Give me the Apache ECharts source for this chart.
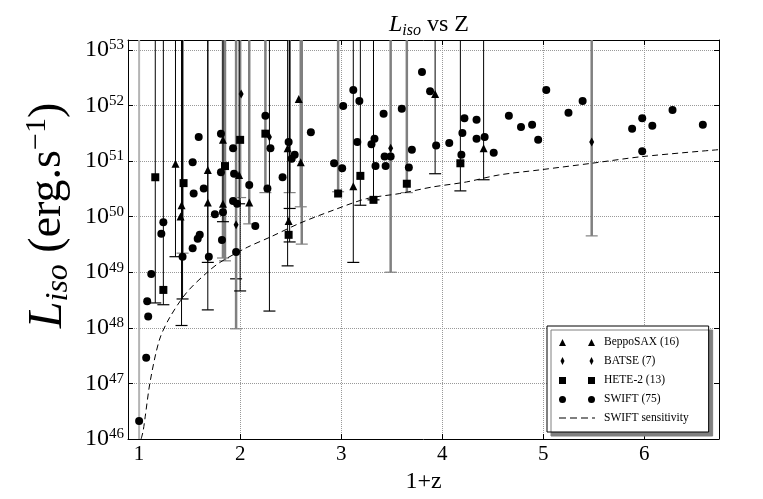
<!DOCTYPE html>
<html>
<head>
<meta charset="utf-8">
<script src="https://cdn.jsdelivr.net/npm/echarts@6/dist/echarts.min.js"></script>
<style>
html, body { margin: 0; padding: 0; background: #fff; }
#container { width: 763px; height: 499px; }
</style>
</head>
<body>
<div id="container"></div>
<script>
var dom = document.getElementById("container");
var myChart = echarts.init(dom);
var serif = 'Liberation Serif';

var yMin = 1e46;
var yMax = 1.5e53;

// [1+z, L_iso]
var beppoSAX = [
  [1.36, 8.9e50], [1.42, 1.6e50], [1.41, 1.0e50], [1.68, 6.9e50], [1.68, 1.8e50],
  [1.83, 2.4e51], [1.83, 1.7e50], [1.99, 5.6e50], [2.09, 1.8e50], [2.47, 1.7e51],
  [2.48, 8.3e49], [2.58, 1.3e52], [2.60, 9.5e50], [3.12, 3.5e50], [3.93, 1.6e52],
  [4.41, 1.7e51]
];
var batse = [
  [1.96, 7.1e49], [2.01, 1.6e52], [2.29, 2.7e51], [3.49, 1.7e51], [5.48, 2.2e51]
];
var hete2 = [
  [1.16, 5.1e50], [1.24, 4.8e48], [1.44, 4.0e50], [1.85, 8.1e50], [2.00, 2.4e51],
  [2.25, 3.1e51], [2.48, 4.7e49], [2.97, 2.6e50], [3.19, 5.4e50], [3.32, 2.0e50],
  [3.65, 3.9e50], [4.18, 9.1e50]
];
var swift = [
  [1.24, 7.9e49], [1.22, 4.9e49], [1.59, 2.7e51], [1.53, 9.5e50], [1.54, 2.6e50],
  [1.64, 3.2e50], [1.75, 1.1e50], [1.81, 3.1e51], [1.81, 6.3e50], [1.83, 1.2e50],
  [1.93, 1.9e50], [1.93, 1.7e51], [1.94, 5.9e50], [1.97, 1.7e50], [1.58, 4.0e49],
  [1.60, 4.7e49], [1.53, 2.7e49], [1.82, 3.8e49], [2.09, 3.7e50], [2.15, 6.8e49],
  [2.25, 6.5e51], [2.30, 1.7e51], [2.27, 3.2e50], [2.42, 5.1e50], [2.48, 2.2e51],
  [2.51, 1.1e51], [2.54, 1.3e51], [2.70, 3.3e51], [1.12, 9.3e48], [1.08, 3.0e48],
  [1.09, 1.6e48], [1.07, 2.9e47], [1.00, 2.1e46], [1.43, 1.9e49], [1.69, 1.9e49],
  [1.96, 2.3e49], [3.02, 9.8e51], [3.18, 1.2e52], [3.42, 7.1e51], [3.16, 2.2e51],
  [3.30, 2.0e51], [3.33, 2.5e51], [2.93, 9.1e50], [3.01, 7.4e50], [3.34, 8.1e50],
  [3.44, 8.1e50], [3.43, 1.2e51], [3.49, 1.2e51], [3.12, 1.9e52], [3.60, 8.7e51],
  [3.67, 7.6e50], [3.70, 1.6e51], [3.80, 4.0e52], [3.88, 1.8e52], [3.94, 1.9e51],
  [4.07, 2.1e51], [4.20, 3.2e51], [4.19, 1.3e51], [4.22, 5.9e51], [4.34, 5.5e51],
  [4.34, 2.5e51], [4.42, 2.7e51], [4.51, 1.4e51], [4.66, 6.5e51], [4.78, 4.1e51],
  [4.89, 4.5e51], [4.95, 2.4e51], [5.03, 1.9e52], [5.25, 7.4e51], [5.39, 1.2e52],
  [5.88, 3.8e51], [5.98, 5.9e51], [5.98, 1.5e51], [6.08, 4.3e51], [6.28, 8.3e51],
  [6.58, 4.5e51]
];

// error bars: [1+z, lower value, style 0 = black, 1 = grey thick, 2 = light grey]
// upper ends are all off the top of the plot
var errorBars = [
  [1.00, 1e45, 2],
  [1.16, 2.8e48, 0], [1.24, 2.6e48, 0], [1.36, 1.9e49, 0],
  [1.43, 2.2e49, 1], [1.43, 3.3e48, 0], [1.42, 1.1e48, 0],
  [1.68, 1.5e49, 0], [1.68, 2.1e48, 0],
  [1.83, 1.8e49, 1], [1.85, 1.6e49, 1], [1.83, 8.1e49, 0],
  [1.96, 7.6e48, 0], [1.96, 9.6e47, 1],
  [2.00, 4.6e48, 0], [2.00, 2.2e50, 1], [1.99, 1.7e50, 0],
  [2.09, 7.4e49, 1], [2.25, 2.7e50, 1], [2.29, 2.0e48, 0],
  [2.49, 2.7e50, 1], [2.49, 1.4e50, 0], [2.49, 3.5e49, 0], [2.47, 1.3e49, 0],
  [2.60, 1.5e50, 1], [2.61, 3.2e49, 1],
  [2.97, 2.8e50, 1], [3.12, 1.5e49, 0], [3.19, 1.6e50, 0], [3.32, 2.0e50, 0],
  [3.49, 1.0e49, 1], [3.65, 2.7e50, 1], [3.93, 5.9e50, 0], [4.18, 2.9e50, 0],
  [4.41, 4.6e50, 0], [5.48, 4.5e49, 1]
];

// SWIFT sensitivity curve
var sensX = [1.02, 1.04, 1.06, 1.11, 1.20, 1.30, 1.47, 1.67, 1.80, 2.07, 2.30, 2.59, 2.92, 3.25, 3.58, 3.90, 4.24, 4.56, 4.96, 5.48, 5.98, 6.74];
var sensY = [1.0e46, 1.4e46, 2.5e46, 1.1e47, 6.0e47, 1.5e48, 4.3e48, 9.8e48, 1.5e49, 2.8e49, 4.3e49, 7.6e49, 1.3e50, 2.1e50, 2.6e50, 3.4e50, 4.2e50, 5.6e50, 6.9e50, 9.1e50, 1.2e51, 1.6e51];

var errStyles = [
  { color: '#000', width: 1 },
  { color: '#808080', width: 2.5 },
  { color: '#b4b4b4', width: 2 }
];

var icons = {
  tri: 'path://M0,8L3.5,1L7,8Z M29,8L32.5,1L36,8Z M0,0L0,0Z',
  dia: 'path://M3.5,0L5.5,4L3.5,8L1.5,4Z M32.5,0L34.5,4L32.5,8L30.5,4Z M0,4L0,4Z M36,4L36,4Z',
  sq: 'path://M0,1h7v7h-7z M29,1h7v7h-7z M0,0L0,0Z',
  cir: 'path://M7,4.5A3.5,3.5,0,1,1,0,4.5A3.5,3.5,0,1,1,7,4.5Z M36,4.5A3.5,3.5,0,1,1,29,4.5A3.5,3.5,0,1,1,36,4.5Z M0,0L0,0Z',
  dash: 'path://M0,0L0,0Z M0,3.6h7v1h-7z M11,3.6h7v1h-7z M22,3.6h7v1h-7z M33,3.6h3v1h-3z M36,8L36,8Z'
};

function isPow10(v) {
  var e = Math.log10(v);
  return Math.abs(e - Math.round(e)) < 1e-6;
}

option = {
  backgroundColor: '#fff',
  animation: false,
  title: {
    text: '{it|L}{sub|iso}{n| vs Z}',
    left: 424,
    top: 6,
    textAlign: 'center',
    textStyle: {
      fontFamily: serif,
      fontWeight: 'normal',
      fontSize: 24,
      color: '#000',
      rich: {
        it: { fontFamily: serif, fontStyle: 'italic', fontSize: 24, lineHeight: 28 },
        sub: { fontFamily: serif, fontStyle: 'italic', fontSize: 16, verticalAlign: 'bottom', lineHeight: 19 },
        n: { fontFamily: serif, fontSize: 24, lineHeight: 28 }
      }
    }
  },
  legend: {
    orient: 'vertical',
    left: 547,
    top: 326,
    padding: [10, 20, 8, 12],
    backgroundColor: '#fff',
    borderColor: '#000',
    borderWidth: 1,
    borderRadius: 0,
    shadowColor: '#808080',
    shadowBlur: 0,
    shadowOffsetX: 4,
    shadowOffsetY: 4,
    itemWidth: 36,
    itemHeight: 8,
    itemGap: 7,
    textStyle: { fontFamily: serif, fontSize: 11.5, color: '#000', lineHeight: 12, padding: [0, 0, 0, 4] },
    data: [
      { name: 'BeppoSAX (16)', icon: icons.tri },
      { name: 'BATSE (7)', icon: icons.dia },
      { name: 'HETE-2 (13)', icon: icons.sq },
      { name: 'SWIFT (75)', icon: icons.cir },
      { name: 'SWIFT sensitivity', icon: icons.dash }
    ]
  },
  grid: { left: 128, right: 44, top: 40, bottom: 60 },
  xAxis: [{
    type: 'value',
    min: 0.89,
    max: 6.74,
    name: '1+z',
    nameLocation: 'middle',
    nameGap: 27,
    nameTextStyle: { fontFamily: serif, fontSize: 24, color: '#000' },
    axisLine: { lineStyle: { color: '#000', width: 1 } },
    axisTick: { inside: true, length: 5, lineStyle: { color: '#000' } },
    axisLabel: {
      fontFamily: serif, fontSize: 21, color: '#000', margin: 5,
      formatter: function (v) { return Number.isInteger(v) ? String(v) : ''; }
    },
    splitLine: { show: true, lineStyle: { type: 'dotted', color: '#999', width: 1 } }
  }, {
    type: 'value',
    position: 'top',
    min: 0.89,
    max: 6.74,
    axisLine: { show: true, lineStyle: { color: '#000', width: 1 } },
    axisTick: { show: true, inside: true, length: 5, lineStyle: { color: '#000' } },
    axisLabel: { show: false },
    splitLine: { show: false }
  }],
  yAxis: [{
    type: 'log',
    logBase: 10,
    min: yMin,
    max: yMax,
    name: '{L|L}{sub|iso}{t| (erg.s}{sup|−1}{t|)}',
    nameLocation: 'middle',
    nameRotate: 90,
    nameGap: 40,
    nameTextStyle: {
      fontFamily: serif, fontSize: 46, color: '#000', padding: [0, 0, 0, 48],
      rich: {
        L: { fontFamily: serif, fontStyle: 'italic', fontSize: 48, lineHeight: 52 },
        sub: { fontFamily: serif, fontStyle: 'italic', fontSize: 32, verticalAlign: 'bottom', lineHeight: 34 },
        t: { fontFamily: serif, fontSize: 46, lineHeight: 52 },
        sup: { fontFamily: serif, fontSize: 30, verticalAlign: 'top', lineHeight: 32 }
      }
    },
    axisLine: { show: true, lineStyle: { color: '#000', width: 1 } },
    axisTick: { show: true, inside: true, length: 5, lineStyle: { color: '#000' } },
    axisLabel: {
      fontFamily: serif, fontSize: 24, color: '#000', margin: 4,
      formatter: function (v) {
        if (!isPow10(v)) return '';
        return '10{sup|' + Math.round(Math.log10(v)) + '}';
      },
      rich: {
        sup: { fontFamily: serif, fontSize: 15, verticalAlign: 'top', lineHeight: 16 }
      }
    },
    splitLine: { show: true, lineStyle: { type: 'dotted', color: '#999', width: 1 } }
  }, {
    type: 'log',
    logBase: 10,
    position: 'right',
    min: yMin,
    max: yMax,
    axisLine: { show: true, lineStyle: { color: '#000', width: 1 } },
    axisTick: { show: true, inside: true, length: 5, lineStyle: { color: '#000' } },
    axisLabel: { show: false },
    splitLine: { show: false }
  }],
  series: [{
    type: 'custom',
    name: 'errors',
    silent: true,
    z: 1,
    data: errorBars,
    encode: { x: 0, y: 1 },
    renderItem: function (params, api) {
      var x = api.value(0);
      var lo = api.value(1);
      var st = errStyles[api.value(2)];
      var top = api.coord([x, yMax]);
      var bot = api.coord([x, Math.max(lo, yMin)]);
      var children = [{
        type: 'line',
        shape: { x1: top[0], y1: top[1], x2: bot[0], y2: bot[1] },
        style: { stroke: st.color, lineWidth: st.width }
      }];
      if (lo >= yMin) {
        children.push({
          type: 'line',
          shape: { x1: bot[0] - 6, y1: bot[1], x2: bot[0] + 6, y2: bot[1] },
          style: { stroke: st.color, lineWidth: 1.2 }
        });
      }
      return { type: 'group', children: children };
    }
  }, {
    type: 'scatter',
    name: 'BeppoSAX (16)',
    symbol: 'triangle',
    symbolSize: 8,
    itemStyle: { color: '#000', opacity: 1 },
    z: 3,
    data: beppoSAX
  }, {
    type: 'scatter',
    name: 'BATSE (7)',
    symbol: 'diamond',
    symbolSize: [5, 9],
    itemStyle: { color: '#000', opacity: 1 },
    z: 3,
    data: batse
  }, {
    type: 'scatter',
    name: 'HETE-2 (13)',
    symbol: 'rect',
    symbolSize: 8,
    itemStyle: { color: '#000', opacity: 1 },
    z: 3,
    data: hete2
  }, {
    type: 'scatter',
    name: 'SWIFT (75)',
    symbol: 'circle',
    symbolSize: 8,
    itemStyle: { color: '#000', opacity: 1 },
    z: 3,
    data: swift
  }, {
    type: 'line',
    name: 'SWIFT sensitivity',
    showSymbol: false,
    symbol: 'none',
    smooth: 0.3,
    z: 2,
    itemStyle: { color: '#000' },
    lineStyle: { color: '#000', width: 1, type: [6, 4] },
    data: sensX.map(function (x, i) { return [x, sensY[i]]; })
  }]
};

if (option && typeof option === "object") {
  myChart.setOption(option, true);
}
</script>
</body>
</html>
